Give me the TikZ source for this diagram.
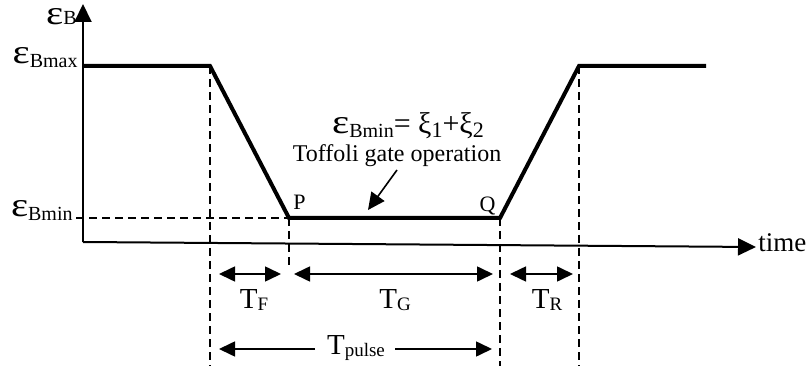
\documentclass[tikz,border=0pt]{standalone}
\usepackage{fontspec}
\setmainfont{Liberation Serif}
\usetikzlibrary{arrows.meta}
\newcommand{\epsof}[2][0pt]{{\fontsize{17}{17}\selectfont\scalebox{1.2}[1]{ε}}{\fontsize{10}{10}\selectfont\raisebox{-#1}{#2}}}
\newcommand{\tsub}[1]{{\fontsize{14.5}{14.5}\selectfont T}{\fontsize{9.5}{9.5}\selectfont\raisebox{-0.25ex}{#1}}}

\begin{document}
\begin{tikzpicture}[x=0.5pt,y=-0.5pt,>={Triangle[length=8pt,width=7.5pt]},
  pulse/.style={line width=2pt,line join=miter},
  guide/.style={dash pattern=on 4pt off 2.5pt,line width=0.8pt},
  dim/.style={<->,line width=0.8pt},
  axisarrow/.style={-{Triangle[length=9pt,width=8.5pt]},line width=1pt}]
  \useasboundingbox (0,0) rectangle (812,368);
  % axes
  \coordinate (O) at (83,242); \coordinate (ytop) at (83,4); \coordinate (xend) at (756,247);
  \draw[axisarrow] (O)--(ytop);
  \draw[axisarrow] (O)--(xend);
  \node (time) [anchor=base west,inner sep=0pt,font=\fontsize{13.5}{13.5}\selectfont] at (758,252) {time};
  % pulse shape
  \coordinate (A) at (83,66); \coordinate (B) at (210,66); \coordinate (P) at (289,218);
  \coordinate (Q) at (500,218); \coordinate (C) at (579,66); \coordinate (D) at (706,66);
  \draw[pulse] (A)--(B)--(P)--(Q)--(C)--(D);
  \node (pP) [anchor=base west,inner sep=0pt,font=\fontsize{11}{11}\selectfont] at (293,210) {P};
  \node (pQ) [anchor=base east,inner sep=0pt,font=\fontsize{11}{11}\selectfont] at (496,212) {Q};
  % levels
  \node (lvB) [anchor=base east,inner sep=0pt] at (77,25) {\epsof{B}};
  \node (lvmax) [anchor=base east,inner sep=0pt] at (78,64) {\epsof[0.35ex]{Bmax}};
  \node (lvmin) [anchor=base east,inner sep=0pt] at (73,217) {\epsof[0.35ex]{Bmin}};
  \coordinate (minL) at (76,218);
  \draw[guide] (minL)--(P);
  % guides
  \coordinate (gB) at (210,366); \coordinate (gP) at (289,266);
  \coordinate (gQ) at (500,366); \coordinate (gC) at (579,366);
  \draw[guide] (B)--(gB); \draw[guide] (P)--(gP);
  \draw[guide] (Q)--(gQ); \draw[guide] (C)--(gC);
  % operation label
  \node (eq) [anchor=base,inner sep=0pt] at (408,134) {\epsof[0.35ex]{Bmin}{\fontsize{15}{15}\selectfont= ξ}{\fontsize{11}{11}\selectfont\raisebox{-0.3ex}{1}}{\fontsize{15}{15}\selectfont+ξ}{\fontsize{11}{11}\selectfont\raisebox{-0.3ex}{2}}};
  \node (toff) [anchor=base,inner sep=0pt,font=\fontsize{12}{12}\selectfont] at (397,162) {Toffoli gate operation};
  \coordinate (tip) at (368,210);
  \draw[->,line width=0.8pt,>={Triangle[length=8.5pt,width=8pt]}] (397,170)--(tip);
  % durations
  \coordinate (f1) at (219,274); \coordinate (f2) at (281,274);
  \coordinate (g1) at (294,274); \coordinate (g2) at (493,274);
  \coordinate (r1) at (510,274); \coordinate (r2) at (573,274);
  \draw[dim] (f1)--(f2); \draw[dim] (g1)--(g2); \draw[dim] (r1)--(r2);
  \node (TF) [anchor=base,inner sep=0pt] at (254,308) {\tsub{F}};
  \node (TG) [anchor=base,inner sep=0pt] at (395,308) {\tsub{G}};
  \node (TR) [anchor=base,inner sep=0pt] at (547,308) {\tsub{R}};
  \node (Tp) [anchor=base,inner sep=0pt] at (356,354) {\tsub{pulse}};
  \coordinate (p1) at (219,349); \coordinate (p2) at (492,349);
  \draw[->,line width=0.8pt] (315,349)--(p1);
  \draw[->,line width=0.8pt] (395,349)--(p2);
\end{tikzpicture}
\end{document}
